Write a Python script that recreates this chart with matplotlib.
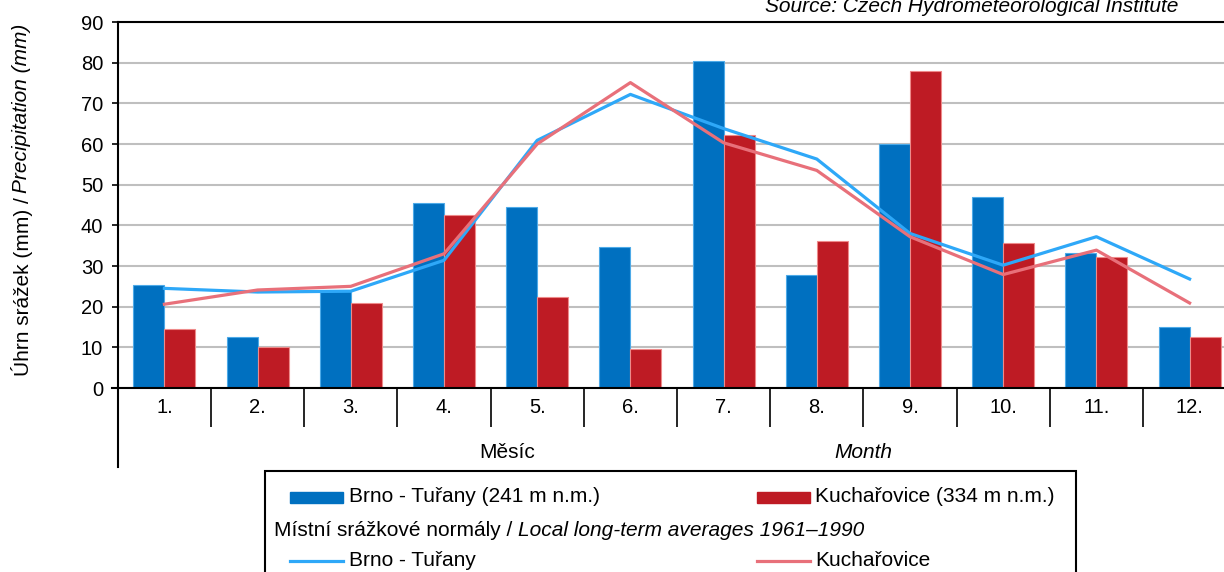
import numpy as np
import matplotlib.pyplot as plt
from matplotlib.patches import Rectangle
from matplotlib.lines import Line2D

plt.rcParams['font.family'] = ['Liberation Sans', 'DejaVu Sans']

months = ['1.', '2.', '3.', '4.', '5.', '6.', '7.', '8.', '9.', '10.', '11.', '12.']
brno = [25.3, 12.5, 23.8, 45.5, 44.5, 34.6, 80.3, 27.8, 60.1, 46.9, 33.1, 15.0]
kuch = [14.5, 10.1, 20.8, 42.5, 22.4, 9.6, 62.1, 36.1, 77.9, 35.7, 32.1, 12.5]
brno_norm = [24.5, 23.6, 23.8, 31.4, 60.9, 72.2, 63.8, 56.3, 38.0, 30.2, 37.2, 26.8]
kuch_norm = [20.6, 24.1, 25.0, 33.0, 60.0, 75.1, 60.3, 53.5, 37.2, 27.9, 33.9, 20.9]

c_blue = '#0070C0'
c_red = '#BE1B24'
c_lblue = '#2EA8F8'
c_lred = '#E8707A'
fs = 15

W, H = 1224, 572
fig = plt.figure(figsize=(W / 100, H / 100), dpi=100)

def fx(px):
    return px / W

def fy(py):
    return 1 - py / H

left, right, top, bot = 117.8, 1236.2, 22, 388
ax = fig.add_axes([fx(left), fy(bot), (right - left) / W, (bot - top) / H])

x = np.arange(len(months))
w = 1 / 3
ax.bar(x - w / 2, brno, w, color=c_blue, edgecolor='#4DAAE8', linewidth=0.8, zorder=2)
ax.bar(x + w / 2, kuch, w, color=c_red, edgecolor='#EE8A8A', linewidth=0.8, zorder=2)
ax.plot(x, brno_norm, color=c_lblue, lw=2.3, zorder=3)
ax.plot(x, kuch_norm, color=c_lred, lw=2.3, zorder=3)

ax.set_xlim(-0.5, 11.5)
ax.set_ylim(0, 90)
ax.set_yticks(np.arange(0, 91, 10))
ax.yaxis.grid(True, color='#BFBFBF', lw=1.5, zorder=0)
ax.set_axisbelow(True)
ax.tick_params(axis='y', length=4.5, width=1.2, labelsize=fs - 0.5, pad=6)

ax.set_xticks(x)
ax.set_xticklabels(months)
ax.set_xticks(np.arange(0.5, 11.5, 1), minor=True)
ax.tick_params(axis='x', which='major', length=0, labelsize=fs - 0.5, pad=7)
ax.tick_params(axis='x', which='minor', length=28, width=1.2)

for s in ['left', 'top', 'bottom']:
    ax.spines[s].set_linewidth(1.5)
ax.spines['right'].set_visible(False)

# left axis line continues below the category row
fig.add_artist(Line2D([fx(left), fx(left)], [fy(bot), fy(467)], color='black', lw=1.5))
fig.add_artist(Line2D([fx(112), fx(left)], [fy(bot), fy(bot)], color='black', lw=1.5))

fig.text(fx(507), fy(453), 'Měsíc', ha='center', va='center', fontsize=fs)
fig.text(fx(863), fy(453), 'Month', ha='center', va='center', fontsize=fs, style='italic')

fig.text(fx(1178), fy(7), 'Source: Czech Hydrometeorological Institute', ha='right', va='center',
         fontsize=fs, style='italic')

fig.canvas.draw()
r = fig.canvas.get_renderer()

# y label in two styles
t1 = fig.text(fx(22), fy(376), 'Úhrn srážek (mm) / ', rotation=90, ha='center', va='bottom', fontsize=fs)
bb = t1.get_window_extent(r)
fig.text(fx(22), bb.y1 / H - 0.002, 'Precipitation (mm)', rotation=90, ha='center', va='bottom',
         fontsize=fs, style='italic')

# legend box
fig.add_artist(Rectangle((fx(265), fy(600)), fx(1076 - 265), (600 - 471) / H, fill=False,
                         edgecolor='black', lw=1.5))
fig.add_artist(Rectangle((fx(290), fy(503)), fx(53), 11 / H, color=c_blue))
fig.add_artist(Rectangle((fx(757), fy(503)), fx(53), 11 / H, color=c_red))
fig.text(fx(349), fy(497), 'Brno - Tuřany (241 m n.m.)', va='center', fontsize=fs)
fig.text(fx(815), fy(497), 'Kuchařovice (334 m n.m.)', va='center', fontsize=fs)
t2 = fig.text(fx(274), fy(530), 'Místní srážkové normály / ', va='center', fontsize=fs)
bb = t2.get_window_extent(r)
fig.text(bb.x1 / W, fy(530), 'Local long-term averages 1961–1990', va='center', fontsize=fs, style='italic')
fig.add_artist(Line2D([fx(290), fx(343)], [fy(561), fy(561)], color=c_lblue, lw=2.3))
fig.add_artist(Line2D([fx(757), fx(810)], [fy(561), fy(561)], color=c_lred, lw=2.3))
fig.text(fx(349), fy(561), 'Brno - Tuřany', va='center', fontsize=fs)
fig.text(fx(815), fy(561), 'Kuchařovice', va='center', fontsize=fs)

fig.savefig('out.png', dpi=100)
